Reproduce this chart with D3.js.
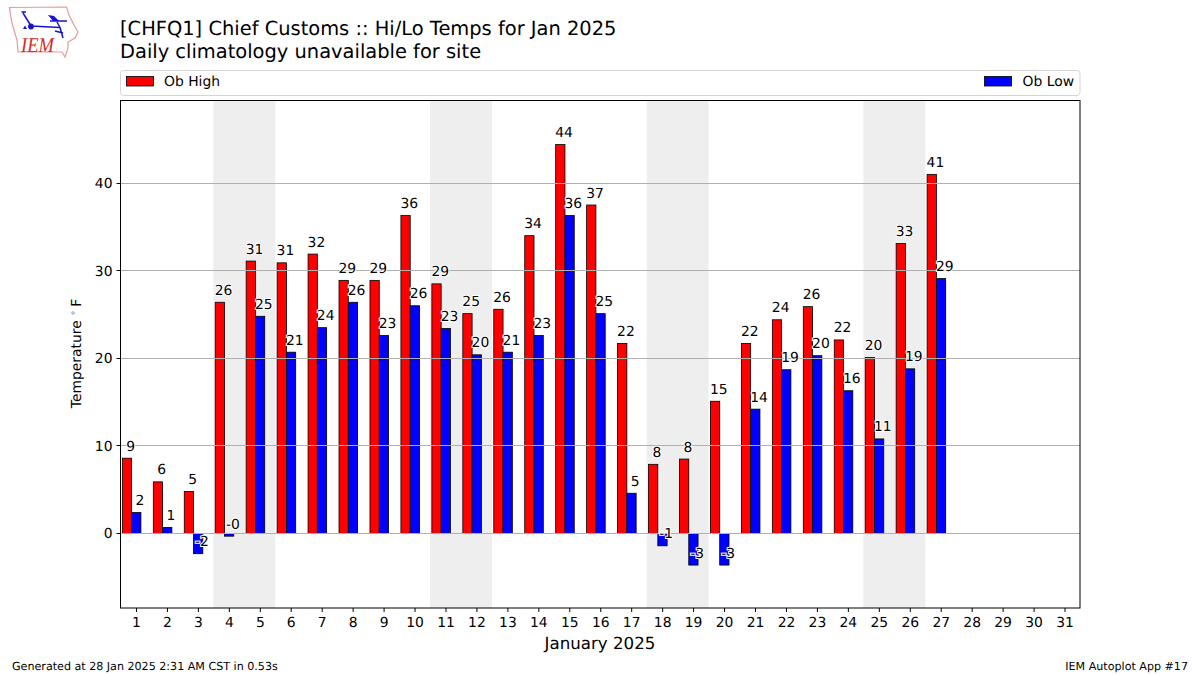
<!DOCTYPE html>
<html>
<head>
<meta charset="utf-8">
<script src="https://cdn.jsdelivr.net/npm/d3@7"></script>
<style>
html, body { margin: 0; padding: 0; background: #fff; }
text { font-family: "DejaVu Sans", sans-serif; fill: #000; text-rendering: geometricPrecision; }
</style>
</head>
<body>
<script>
// TestData
var days = d3.range(1, 32);
var highs = [8.6, 5.9, 4.8, 26.4, 31.1, 30.9, 31.9, 28.9, 28.9, 36.3, 28.5, 25.1, 25.6, 34.0, 44.4, 37.5, 21.7, 7.9, 8.5, 15.1, 21.7, 24.4, 25.9, 22.1, 20.1, 33.1, 41.0];
var lows = [2.4, 0.7, -2.3, -0.3, 24.8, 20.7, 23.5, 26.4, 22.6, 26.0, 23.4, 20.4, 20.7, 22.6, 36.3, 25.1, 4.6, -1.4, -3.6, -3.6, 14.2, 18.7, 20.3, 16.3, 10.8, 18.8, 29.1];
var highLabels = ["9", "6", "5", "26", "31", "31", "32", "29", "29", "36", "29", "25", "26", "34", "44", "37", "22", "8", "8", "15", "22", "24", "26", "22", "20", "33", "41"];
var lowLabels = ["2", "1", "-2", "-0", "25", "21", "24", "26", "23", "26", "23", "20", "21", "23", "36", "25", "5", "-1", "-3", "-3", "14", "19", "20", "16", "11", "19", "29"];
var weekends = [[4, 5], [11, 12], [18, 19], [25, 26]];
var yTicks = [0, 10, 20, 30, 40];

var width = 1200,
	height = 675,
	left = 120.5,
	right = 1080,
	top_ = 100.5,
	bottom = 608;

var svg = d3.select("body").append("svg")
	.attr("width", width)
	.attr("height", height)
	.style("display", "block");

var x = d3.scaleLinear().domain([0.5, 31.5]).range([left, right]);
var y = d3.scaleLinear().domain([-8.5, 49.43]).range([bottom, top_]);

/*
 * Weekend bands.
 */
svg.append("g").selectAll("rect")
	.data(weekends)
	.enter().append("rect")
	.attr("x", function(d) { return x(d[0] - 0.5); })
	.attr("width", function(d) { return x(d[1] + 0.5) - x(d[0] - 0.5); })
	.attr("y", top_)
	.attr("height", bottom - top_)
	.attr("fill", "#eeeeee");

/*
 * Bars. Highs sit left of the day tick, lows straddle it.
 */
function bars(values, offset, color) {
	svg.append("g").selectAll("rect")
		.data(values)
		.enter().append("rect")
		.attr("x", function(d, i) { return x(days[i] + offset); })
		.attr("width", x(0.3) - x(0))
		.attr("y", function(d) { return y(Math.max(d, 0)); })
		.attr("height", function(d) { return Math.abs(y(d) - y(0)); })
		.attr("fill", color)
		.attr("stroke", "#000")
		.attr("stroke-width", 0.8);
}
bars(highs, -0.44, "#ff0000");
bars(lows, -0.14, "#0000ff");

/*
 * Grid goes over the bars.
 */
svg.append("g").selectAll("line")
	.data(yTicks)
	.enter().append("line")
	.attr("x1", left)
	.attr("x2", right)
	.attr("y1", function(d) { return Math.floor(y(d)) + 0.5; })
	.attr("y2", function(d) { return Math.floor(y(d)) + 0.5; })
	.attr("stroke", "#b0b0b0")
	.attr("stroke-width", 1);

/*
 * Value labels with a white halo.
 */
function labels(values, texts, offset) {
	svg.append("g").selectAll("text")
		.data(values)
		.enter().append("text")
		.attr("x", function(d, i) { return x(days[i] + offset + 0.15) + 4; })
		.attr("y", function(d) { return y(d) - 7.5; })
		.attr("text-anchor", "middle")
		.style("font-size", "13.89px")
		.style("paint-order", "stroke")
		.style("stroke", "#fff")
		.style("stroke-width", "2px")
		.text(function(d, i) { return texts[i]; });
}
labels(highs, highLabels, -0.45);
labels(lows, lowLabels, -0.15);

/*
 * Axes.
 */
var xAxis = svg.append("g")
	.attr("transform", "translate(0," + bottom + ")")
	.call(d3.axisBottom(x).tickValues(days).tickFormat(d3.format("d")).tickSize(4).tickPadding(5));
var yAxis = svg.append("g")
	.attr("transform", "translate(" + left + ",0)")
	.call(d3.axisLeft(y).tickValues(yTicks).tickFormat(d3.format("d")).tickSize(4).tickPadding(4));
[xAxis, yAxis].forEach(function(a) {
	a.select(".domain").remove();
	a.selectAll("text").style("font-size", "13.89px").style("font-family", "DejaVu Sans");
	a.selectAll("line").attr("stroke", "#000");
});
yAxis.selectAll("line").attr("transform", function(d) { return "translate(0," + (Math.floor(y(d)) + 0.5 - y(d) - 0.5) + ")"; });

svg.append("rect")
	.attr("x", left)
	.attr("y", top_)
	.attr("width", right - left)
	.attr("height", bottom - top_)
	.attr("fill", "none")
	.attr("stroke", "#000")
	.attr("stroke-width", 1);

svg.append("text")
	.attr("x", 600)
	.attr("y", 649)
	.attr("text-anchor", "middle")
	.style("font-size", "16.67px")
	.text("January 2025");

var yLabel = svg.append("text")
	.attr("transform", "translate(81,353.5) rotate(-90)")
	.attr("text-anchor", "middle")
	.style("font-size", "13.89px");
yLabel.append("tspan").text("Temperature ");
yLabel.append("tspan").attr("dy", -5).style("font-size", "9.7px").style("fill", "#666").text("\u2218");
yLabel.append("tspan").attr("dy", 5).attr("dx", 3).text("F");

/*
 * Titles.
 */
svg.append("text").attr("x", 120).attr("y", 35).style("font-size", "19.44px")
	.text("[CHFQ1] Chief Customs :: Hi/Lo Temps for Jan 2025");
svg.append("text").attr("x", 120).attr("y", 57.5).style("font-size", "19.44px")
	.text("Daily climatology unavailable for site");

/*
 * Legend.
 */
svg.append("rect")
	.attr("x", 120.5).attr("y", 70.5)
	.attr("width", 959.5).attr("height", 25)
	.attr("rx", 3)
	.attr("fill", "#fff")
	.attr("stroke", "#d5d5d5");
svg.append("rect").attr("x", 126.5).attr("y", 76.5).attr("width", 27).attr("height", 9.5)
	.attr("fill", "#ff0000").attr("stroke", "#000").attr("stroke-width", 0.8);
svg.append("text").attr("x", 164).attr("y", 86).style("font-size", "13.89px").text("Ob High");
svg.append("rect").attr("x", 984.5).attr("y", 76.5).attr("width", 27).attr("height", 9.5)
	.attr("fill", "#0000ff").attr("stroke", "#000").attr("stroke-width", 0.8);
svg.append("text").attr("x", 1074).attr("y", 86).attr("text-anchor", "end").style("font-size", "13.89px").text("Ob Low");

/*
 * Footer.
 */
svg.append("text").attr("x", 12).attr("y", 670).style("font-size", "11.11px")
	.text("Generated at 28 Jan 2025 2:31 AM CST in 0.53s");
svg.append("text").attr("x", 1188).attr("y", 670).attr("text-anchor", "end").style("font-size", "11.11px")
	.text("IEM Autoplot App #17");

/*
 * Logo, rough Iowa outline with the station symbol.
 */
var logo = svg.append("g");
logo.append("path")
	.attr("d", "M9.5,7.5 L66.5,7 L69,15 L74,25 L78,32 L75,38 L68,42 L68,48 L65,57 L62,52 L18,52 L17,40 L12,23 L10.5,15 Z")
	.attr("fill", "none")
	.attr("stroke", "#e79a9a")
	.attr("stroke-width", 1.2);
logo.append("path")
	.attr("d", "M31,26 L60,27.5 M31,26 L23,13 M21.5,12 L26,12 M50,21 L67,21 M57,22 L60,27.5 L63,38 M55,31 L63,33")
	.attr("fill", "none")
	.attr("stroke", "#1515d0")
	.attr("stroke-width", 1.5);
logo.append("circle").attr("cx", 31).attr("cy", 26.5).attr("r", 2.9).attr("fill", "#1515d0");
logo.append("path").attr("d", "M48,15 L54,16 L59,21 L53,21 Z").attr("fill", "#1515d0");
logo.append("path").attr("d", "M25,25.5 L27,29 L23,29 Z").attr("fill", "#1515d0");
logo.append("text").attr("x", 21).attr("y", 51.5)
	.attr("textLength", 33)
	.attr("lengthAdjust", "spacingAndGlyphs")
	.style("font-family", "Liberation Serif")
	.style("font-style", "italic")
	.style("font-size", "21px")
	.style("fill", "#d42a2a")
	.text("IEM");
</script>
</body>
</html>
